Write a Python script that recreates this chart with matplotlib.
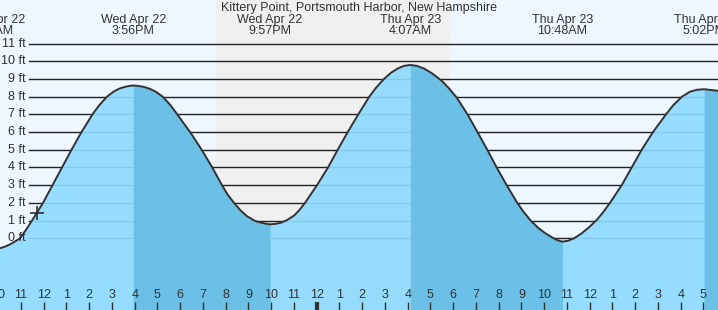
import matplotlib
matplotlib.use('Agg')
import matplotlib.pyplot as plt
import matplotlib.transforms as mtransforms

plt.rcParams['font.family'] = ['Liberation Sans', 'DejaVu Sans']

title = 'Kittery Point, Portsmouth Harbor, New Hampshire'

# hours since midnight Apr 22, tide height in ft
hours = [10.079, 10.299, 10.519, 10.738, 10.958, 11.222, 11.486, 11.969, 12.387,
         12.804, 13.222, 13.662, 14.145, 14.431, 14.782, 15.090, 15.354, 15.618,
         15.793, 15.933, 16.145, 16.409, 16.673, 16.936, 17.231, 17.552, 17.873,
         18.167, 18.462, 18.945, 19.411, 19.837, 20.079, 20.409, 20.673, 20.936,
         21.288, 21.596, 21.815, 21.950, 22.167, 22.431, 22.695, 23.002, 23.244,
         23.486, 23.749, 24.013, 24.497, 24.923, 25.363, 25.829, 26.312, 26.607,
         26.958, 27.266, 27.574, 27.837, 28.117, 28.409, 28.716, 29.068, 29.495,
         29.815, 30.154, 30.629, 31.068, 31.499, 31.912, 32.352, 32.818, 33.090,
         33.407, 33.727, 34.035, 34.343, 34.607, 34.800, 35.046, 35.310, 35.618,
         35.969, 36.321, 36.607, 36.892, 37.407, 37.846, 38.286, 38.782, 39.354,
         39.662, 40.057, 40.409, 40.717, 41.033, 41.332, 41.640]
height = [-0.56, -0.47, -0.34, -0.18, 0.0, 0.48, 1.0, 2.0, 3.0,
          4.0, 5.0, 6.0, 7.0, 7.5, 8.0, 8.3, 8.47, 8.57,
          8.61, 8.63, 8.61, 8.55, 8.44, 8.27, 8.0, 7.55, 7.0,
          6.47, 5.95, 5.0, 4.0, 3.0, 2.48, 1.93, 1.55, 1.25,
          0.98, 0.87, 0.81, 0.79, 0.81, 0.88, 1.03, 1.28, 1.6,
          2.0, 2.5, 3.0, 4.0, 5.0, 6.0, 7.0, 8.0, 8.5,
          9.0, 9.35, 9.6, 9.74, 9.79, 9.74, 9.59, 9.32, 8.9,
          8.47, 7.95, 7.0, 6.0, 5.0, 4.0, 3.0, 2.0, 1.5,
          1.0, 0.6, 0.3, 0.05, -0.12, -0.19, -0.14, 0.0, 0.25,
          0.62, 1.05, 1.5, 2.0, 3.0, 4.0, 5.0, 6.0, 7.0,
          7.5, 8.0, 8.28, 8.39, 8.42, 8.38, 8.33]

# high/low tide events
ev_hours = [9.733, 15.933, 21.950, 28.117, 34.800, 41.033]
ev_day = ['Wed Apr 22', 'Wed Apr 22', 'Wed Apr 22', 'Thu Apr 23', 'Thu Apr 23', 'Thu Apr 23']
ev_time = ['9:44AM', '3:56PM', '9:57PM', '4:07AM', '10:48AM', '5:02PM']

# falling tide periods (high -> low)
falling = [(15.933, 21.950), (28.117, 34.800), (41.033, 41.640)]

sunset = 19.574
sunrise = 29.815

now_hour = 11.72
now_height = 1.45

ft_levels = list(range(0, 12))
hour_ticks = list(range(10, 42))

xmin, xmax = 10.079, 41.640
ymin, ymax = -4.05, 13.46

fig = plt.figure(figsize=(7.18, 3.10), dpi=100)
ax = fig.add_axes([0, 0, 1, 1])
ax.set_xlim(xmin, xmax)
ax.set_ylim(ymin, ymax)
ax.axis('off')
ax.add_patch(plt.Rectangle((0, 0), 1, 1, transform=ax.transAxes, color='#EEF6FF', zorder=0))
ax.axvspan(sunset, sunrise, color='#F0F0F0', zorder=0.5)

for lv in ft_levels:
    ax.axhline(lv, xmin=29 / 718, xmax=1, color='#222222', lw=1, zorder=1)
    ax.text(xmin + 26 / 22.75, lv, '%d ft' % lv, ha='right', va='center',
            fontsize=9, color='#333333', zorder=6)

ax.fill_between(hours, height, ymin, color=(142/255, 218/255, 254/255), alpha=0.92, lw=0, zorder=2)
for a, b in falling:
    hx = [h for h in hours if a - 1e-6 <= h <= b + 1e-6]
    hy = [height[i] for i, h in enumerate(hours) if a - 1e-6 <= h <= b + 1e-6]
    ax.fill_between(hx, hy, ymin, color=(105/255, 189/255, 228/255), alpha=0.92, lw=0, zorder=2.5)

ax.plot(hours, height, color='#333333', lw=1.4, zorder=4, solid_joinstyle='round')
ax.plot([now_hour], [now_height], marker='+', color='#222222', ms=10, mew=1.1, zorder=5)

trans = mtransforms.blended_transform_factory(ax.transData, ax.transAxes)
for h in hour_ticks:
    lab = str((h - 1) % 12 + 1)
    w = 3 if h == 24 else 1
    ax.plot([h, h], [0, 8 / 310], transform=trans, color='#333333', lw=w, zorder=5,
            solid_capstyle='butt')
    ax.text(h, (310 - 295) / 310, lab, transform=trans, ha='center', va='center',
            fontsize=9, color='#333333', zorder=6)

for h, d, t in zip(ev_hours, ev_day, ev_time):
    ax.text(h, (310 - 20) / 310, d, transform=trans, ha='center', va='center',
            fontsize=9, color='#333333', zorder=6)
    ax.text(h, (310 - 31) / 310, t, transform=trans, ha='center', va='center',
            fontsize=9, color='#333333', zorder=6)

ax.text(0.5, (310 - 8) / 310, title, transform=ax.transAxes, ha='center', va='center',
        fontsize=9, color='#333333', zorder=6)

fig.savefig('out.png', dpi=100)
